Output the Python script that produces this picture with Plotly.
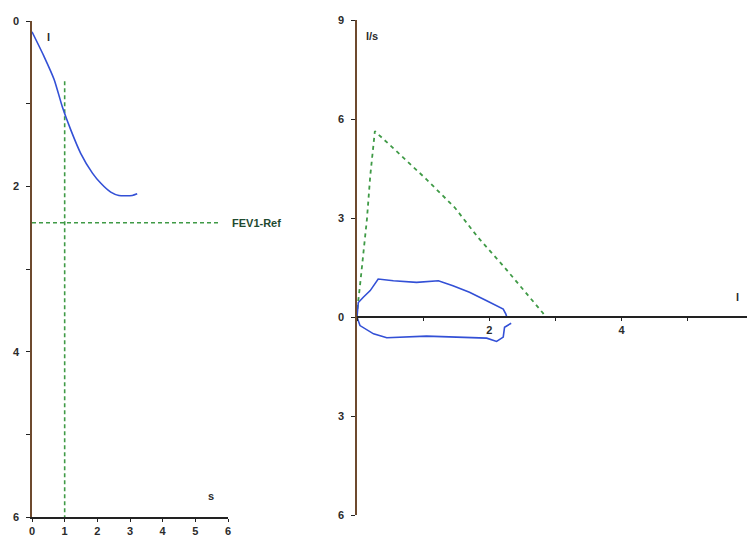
import plotly.graph_objects as go

# Volume-time curve (left)
vt_time = [0.0, 0.37, 0.68, 0.93, 1.19, 1.49, 1.85, 2.10, 2.41, 2.66, 3.07, 3.22]
vt_volume = [0.13, 0.43, 0.71, 1.04, 1.32, 1.60, 1.84, 1.96, 2.07, 2.11, 2.11, 2.09]
fev1_time = [1.0, 1.0]
fev1_time_span = [0.73, 6.0]
fev1_ref_level = 2.44
fev1_ref_span = [0.0, 5.75]

# Flow-volume loop (right)
pred_volume = [0.0, 0.005, 0.045, 0.095, 0.15, 0.20, 0.25, 0.27, 0.60, 1.05, 1.48, 1.83, 2.21, 2.51, 2.81, 2.84]
pred_flow = [0.0, 0.24, 0.95, 1.85, 2.96, 4.27, 5.33, 5.63, 5.02, 4.17, 3.31, 2.41, 1.55, 0.85, 0.12, 0.0]

exp_volume = [0.0, 0.02, 0.095, 0.20, 0.32, 0.55, 0.90, 1.23, 1.45, 1.70, 1.96, 2.11, 2.21, 2.25, 2.26]
exp_flow = [0.0, 0.44, 0.60, 0.80, 1.15, 1.10, 1.05, 1.10, 0.95, 0.75, 0.49, 0.34, 0.24, 0.09, 0.02]
insp_volume = [0.0, 0.045, 0.25, 0.45, 1.05, 1.65, 1.96, 2.11, 2.21, 2.23, 2.33]
insp_flow = [0.0, -0.26, -0.51, -0.63, -0.58, -0.61, -0.64, -0.74, -0.61, -0.31, -0.19]

left_y_ticks = [0, 1, 2, 3, 4, 5, 6]
left_y_labels = ["0", "", "2", "", "4", "", "6"]
left_x_ticks = [0, 1, 2, 3, 4, 5, 6]
left_x_labels = ["0", "1", "2", "3", "4", "5", "6"]
right_y_ticks = [9, 6, 3, 0, -3, -6]
right_y_labels = ["9", "6", "3", "0", "3", "6"]
right_x_ticks = [0, 1, 2, 3, 4, 5, 6]
right_x_labels = ["", "", "2", "", "4", "", "6"]

BLUE = "#3350d6"
GREEN = "#3f9a46"
TEXT = "#2b2b2b"
FONT = dict(family="Liberation Sans, Arial, sans-serif", size=11, color=TEXT)

fig = go.Figure()

fig.add_trace(go.Scatter(x=fev1_time, y=fev1_time_span, mode="lines",
                         line=dict(color=GREEN, width=1.6, dash="4px,3px"),
                         xaxis="x", yaxis="y", showlegend=False))
fig.add_trace(go.Scatter(x=fev1_ref_span, y=[fev1_ref_level, fev1_ref_level], mode="lines",
                         line=dict(color=GREEN, width=1.6, dash="4px,3px"),
                         xaxis="x", yaxis="y", showlegend=False))
fig.add_trace(go.Scatter(x=vt_time, y=vt_volume, mode="lines",
                         line=dict(color=BLUE, width=1.6, shape="spline", smoothing=0.6),
                         xaxis="x", yaxis="y", showlegend=False))

fig.add_trace(go.Scatter(x=pred_volume, y=pred_flow, mode="lines",
                         line=dict(color=GREEN, width=1.8, dash="4px,4px"),
                         xaxis="x2", yaxis="y2", showlegend=False))
fig.add_trace(go.Scatter(x=exp_volume, y=exp_flow, mode="lines",
                         line=dict(color=BLUE, width=1.6),
                         xaxis="x2", yaxis="y2", showlegend=False))
fig.add_trace(go.Scatter(x=insp_volume, y=insp_flow, mode="lines",
                         line=dict(color=BLUE, width=1.6),
                         xaxis="x2", yaxis="y2", showlegend=False))

# page body has an 8px margin, so the figure is drawn 8px in from the window corner
OFF = 8
W, H = 755 - OFF, 537 - OFF


def px_x(p):
    return (p - OFF) / W


def px_y(p):
    return (H - (p - OFF)) / H


lx_dom = [px_x(32), px_x(228)]
ly_dom = [px_y(517), px_y(21)]
rx_dom = [px_x(357), px_x(754)]
ry_dom = [px_y(515), px_y(20)]
r_zero = ry_dom[0] + (0 - (-6)) / 15 * (ry_dom[1] - ry_dom[0])

axis_common = dict(showgrid=False, zeroline=False, ticks="outside", ticklen=4,
                   tickwidth=1.3, tickcolor="#222", automargin=False,
                   tickfont=dict(FONT, weight="bold"))

fig.update_layout(
    width=W, height=H,
    margin=dict(l=0, r=0, t=0, b=0),
    paper_bgcolor="white", plot_bgcolor="rgba(0,0,0,0)",
    font=FONT,
    xaxis=dict(axis_common, domain=lx_dom, range=[0, 6], anchor="y", ticklen=3,
               tickvals=left_x_ticks, ticktext=left_x_labels,
               showline=True, linecolor="#222", linewidth=1.6),
    yaxis=dict(axis_common, domain=ly_dom, range=[6, 0], anchor="x", ticklabelstandoff=5,
               tickvals=left_y_ticks, ticktext=left_y_labels,
               showline=True, linecolor="#6e4a2e", linewidth=1.6),
    xaxis2=dict(axis_common, domain=rx_dom, range=[0, 6], anchor="free", ticklen=3,
                position=r_zero, tickvals=right_x_ticks, ticktext=right_x_labels,
                showline=True, linecolor="#222", linewidth=1.6),
    yaxis2=dict(axis_common, domain=ry_dom, range=[-6, 9], anchor="x2", ticklabelstandoff=5,
                tickvals=right_y_ticks, ticktext=right_y_labels,
                showline=True, linecolor="#6e4a2e", linewidth=1.6),
)

ann_font = dict(family="Liberation Sans, Arial, sans-serif", size=11, color=TEXT, weight="bold")
fig.add_annotation(x=0.49, y=0.19, xref="x", yref="y", text="l", showarrow=False, font=ann_font)
fig.add_annotation(x=5.48, y=5.74, xref="x", yref="y", text="s", showarrow=False, font=ann_font)
# label just right of the left panel, at the FEV1-Ref level
fig.add_annotation(x=px_x(230), y=fev1_ref_level, xref="paper", yref="y", text="FEV1-Ref",
                   showarrow=False, xanchor="left", font=dict(ann_font, color="#1f4a30"))
fig.add_annotation(x=0.23, y=8.52, xref="x2", yref="y2", text="l/s", showarrow=False, font=ann_font)
fig.add_annotation(x=5.75, y=0.6, xref="x2", yref="y2", text="l", showarrow=False, font=ann_font)

fig.write_html("out.html")
